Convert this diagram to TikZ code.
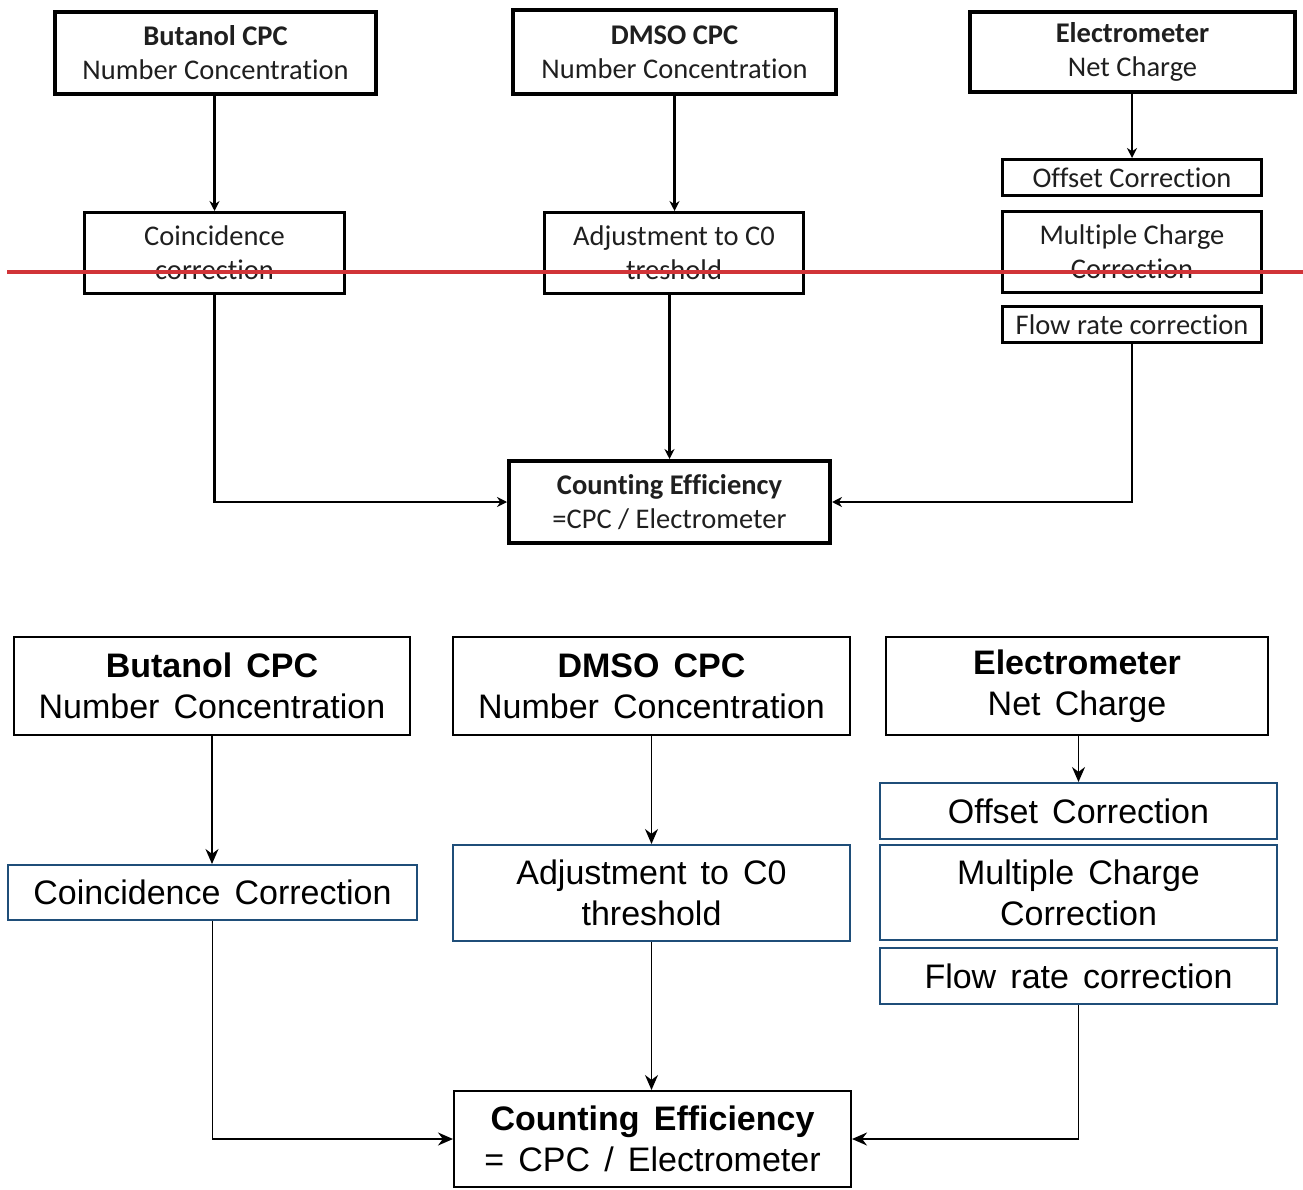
\documentclass[tikz,border=0pt]{standalone}
\usepackage{fontspec}
\newfontfamily\calib[Ligatures=NoCommon]{Carlito}
\newfontfamily\arialw[WordSpace=1.5]{Liberation Sans}
\usetikzlibrary{arrows.meta}
\definecolor{boxblue}{RGB}{31,78,121}
\definecolor{redline}{RGB}{209,52,56}
\begin{document}
\begin{tikzpicture}[x=1pt,y=-1pt,
 topbox/.style={draw=black, line width=3pt, inner sep=0pt, align=center, font=\calib\fontsize{28.5}{34}\selectfont, text=black!88},
 topthick/.style={topbox, line width=4pt},
 botbox/.style={draw=black, line width=2pt, inner sep=0pt, align=center, font=\arialw\fontsize{34}{41}\selectfont},
 botblue/.style={botbox, draw=boxblue},
 toparrow/.style={line width=2.6pt, -{Stealth[length=10pt,width=10pt]}},
 botarrow/.style={line width=1.8pt, -{Stealth[length=15pt,width=13pt]}}]
\useasboundingbox (0,0) rectangle (1303,1190);

% ---- top diagram ----
\node[topthick, minimum width=321pt, minimum height=82pt] (tbut) at (215.5,53) {\textbf{Butanol CPC}\\Number Concentration};
\node[topthick, minimum width=323pt, minimum height=84pt] (tdmso) at (674.5,52) {\textbf{DMSO CPC}\\Number Concentration};
\node[topthick, minimum width=325pt, minimum height=80pt] (telec) at (1132.5,52) {\textbf{Electrometer}\\Net Charge};
\node[topbox, minimum width=260pt, minimum height=81pt] (tcoin) at (214.5,253) {Coincidence\\correction};
\node[topbox, minimum width=259pt, minimum height=81pt] (tadj) at (674,253) {Adjustment to C0\\treshold};
\node[topbox, minimum width=259pt, minimum height=36pt] (toff) at (1132,177.5) {Offset Correction};
\node[topbox, minimum width=259pt, minimum height=81pt] (tmul) at (1132,252) {Multiple Charge\\Correction};
\node[topbox, minimum width=259pt, minimum height=36pt] (tflow) at (1132,324.5) {Flow rate correction};
\node[topthick, minimum width=321pt, minimum height=82pt] (tcnt) at (669.5,502) {\textbf{Counting Efficiency}\\=CPC / Electrometer};

\draw[toparrow] (tbut.south -| tcoin.north) -- (tcoin.north);
\draw[toparrow] (tdmso.south) -- (tdmso.south |- tadj.north);
\draw[toparrow] (telec.south -| toff.north) -- (toff.north);
\draw[toparrow] (tcoin.south) |- (tcnt.west);
\draw[toparrow] (tadj.south -| tcnt.north) -- (tcnt.north);
\draw[toparrow] (tflow.south) |- (tcnt.east);

\coordinate (rl1) at (7,272);
\coordinate (rl2) at (1303,272);
\draw[redline, line width=4pt] (rl1) -- (rl2);

% ---- bottom diagram ----
\node[botbox, minimum width=396pt, minimum height=98pt] (bbut) at (212,686) {\textbf{Butanol CPC}\\Number Concentration};
\node[botbox, minimum width=397pt, minimum height=98pt] (bdmso) at (651.5,686) {\textbf{DMSO CPC}\\Number Concentration};
\node[botbox, minimum width=382pt, minimum height=98pt] (belec) at (1077,686) {\textbf{Electrometer}\\Net Charge};
\node[botblue, minimum width=409pt, minimum height=55pt] (bcoin) at (212.5,892.5) {Coincidence Correction};
\node[botblue, minimum width=397pt, minimum height=96pt] (badj) at (651.5,893) {Adjustment to C0\\threshold};
\node[botblue, minimum width=397pt, minimum height=56pt] (boff) at (1078.5,811) {Offset Correction};
\node[botblue, minimum width=397pt, minimum height=95pt] (bmul) at (1078.5,892.5) {Multiple Charge\\Correction};
\node[botblue, minimum width=397pt, minimum height=56pt] (bflow) at (1078.5,976) {Flow rate correction};
\node[botbox, minimum width=397pt, minimum height=96pt] (bcnt) at (652.5,1139) {\textbf{Counting Efficiency}\\= CPC / Electrometer};

\draw[botarrow] (bbut.south) -- (bbut.south |- bcoin.north);
\draw[botarrow] (bdmso.south) -- (bdmso.south |- badj.north);
\draw[botarrow] (belec.south -| boff.north) -- (boff.north);
\draw[botarrow] (bcoin.south) |- (bcnt.west);
\draw[botarrow] (badj.south) -- (badj.south |- bcnt.north);
\draw[botarrow] (bflow.south) |- (bcnt.east);
\end{tikzpicture}
\end{document}
